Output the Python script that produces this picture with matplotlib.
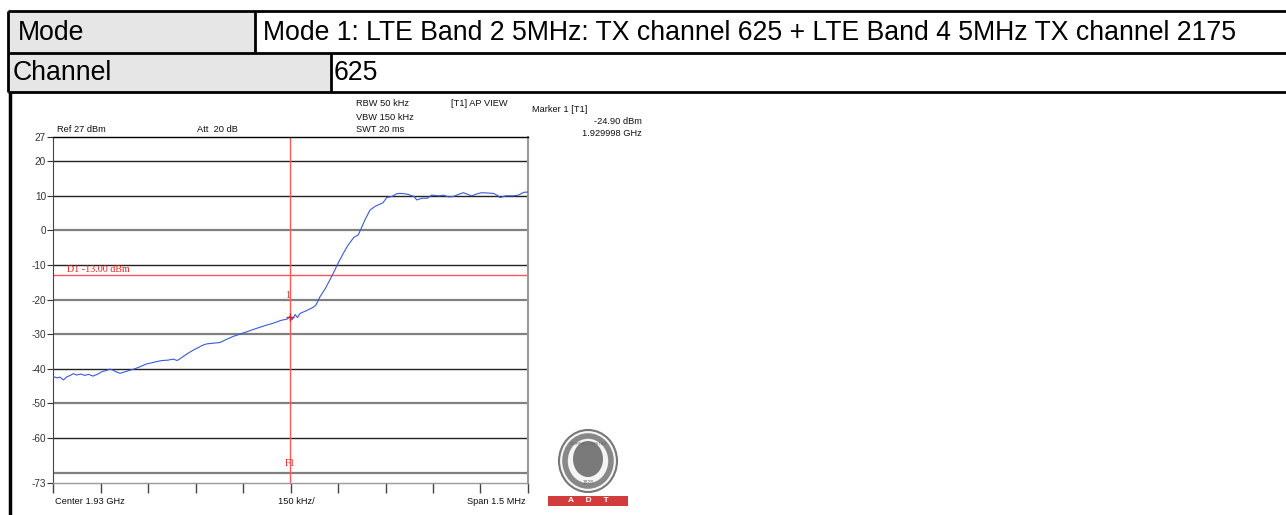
import matplotlib
matplotlib.use('Agg')
import matplotlib.pyplot as plt
from matplotlib.patches import Rectangle, Ellipse
import numpy as np

# ---------------- data ----------------
mode_label = "Mode"
mode_value = "Mode 1: LTE Band 2 5MHz: TX channel 625 + LTE Band 4 5MHz TX channel 2175"
channel_label = "Channel"
channel_value = "625"

freq_mhz = [1929.250, 1929.262, 1929.272, 1929.283, 1929.294, 1929.305, 1929.314, 1929.325,
            1929.338, 1929.350, 1929.362, 1929.377, 1929.392, 1929.405, 1929.418, 1929.430,
            1929.440, 1929.450, 1929.462, 1929.472, 1929.490, 1929.508, 1929.525, 1929.545,
            1929.560, 1929.578, 1929.595, 1929.612, 1929.630, 1929.642, 1929.651, 1929.665,
            1929.680, 1929.693, 1929.710, 1929.722, 1929.735, 1929.755, 1929.777, 1929.800,
            1929.820, 1929.840, 1929.865, 1929.893, 1929.920, 1929.946, 1929.970, 1929.990,
            1929.998, 1930.005, 1930.015, 1930.022, 1930.030, 1930.050, 1930.070, 1930.080,
            1930.093, 1930.110, 1930.135, 1930.150, 1930.167, 1930.180, 1930.200, 1930.214,
            1930.235, 1930.251, 1930.268, 1930.283, 1930.292, 1930.304, 1930.320, 1930.335,
            1930.346, 1930.360, 1930.372, 1930.390, 1930.399, 1930.415, 1930.433, 1930.445,
            1930.470, 1930.483, 1930.498, 1930.514, 1930.530, 1930.546, 1930.560, 1930.572,
            1930.590, 1930.604, 1930.625, 1930.641, 1930.652, 1930.662, 1930.680, 1930.704,
            1930.720, 1930.736, 1930.750]
level_dbm = [-42.2, -42.6, -42.4, -43.2, -42.3, -41.9, -41.4, -41.8,
             -41.5, -41.9, -41.6, -42.1, -41.5, -40.8, -40.5, -40.1,
             -40.4, -40.9, -41.3, -41.0, -40.5, -40.0, -39.4, -38.6,
             -38.3, -37.9, -37.6, -37.5, -37.2, -37.6, -37.1, -36.2,
             -35.3, -34.6, -33.8, -33.2, -32.8, -32.6, -32.4, -31.4,
             -30.6, -30.0, -29.2, -28.3, -27.5, -26.8, -26.0, -25.6,
             -24.9, -25.8, -24.3, -25.2, -24.0, -23.2, -22.3, -21.6,
             -19.2, -16.8, -12.4, -9.5, -6.6, -4.5, -2.0, -1.3,
             3.0, 5.9, 7.0, 7.6, 8.0, 9.5, 9.8, 10.6,
             10.7, 10.6, 10.4, 9.8, 8.8, 9.3, 9.3, 10.2,
             10.0, 10.2, 9.7, 9.8, 10.4, 10.9, 10.4, 10.0,
             10.6, 10.9, 10.8, 10.7, 10.2, 9.5, 10.0, 10.0,
             10.2, 11.0, 11.1]

y_ticks = [27, 20, 10, 0, -10, -20, -30, -40, -50, -60, -73]
grid_levels = [20, 10, 0, -10, -20, -30, -40, -50, -60, -70]
grid_dark = [True, True, False, True, False, False, True, False, True, False]
display_line_dbm = -13.0
marker_freq = 1929.998
marker_level = -24.90
center_freq = 1930.0
span_mhz = 1.5
ref_level = 27
bottom_level = -73

FONT = ['Liberation Sans', 'DejaVu Sans']
SERIF = ['Liberation Serif', 'DejaVu Serif']

fig = plt.figure(figsize=(12.86, 5.15), dpi=100)

# ---------------- overlay in pixel coords ----------------
ov = fig.add_axes([0, 0, 1, 1])
ov.set_xlim(0, 1286)
ov.set_ylim(515, 0)
ov.axis('off')

ov.add_patch(Rectangle((8, 11), 247, 42, fc='#e6e6e6', ec='none'))
ov.add_patch(Rectangle((8, 53), 323, 39, fc='#e6e6e6', ec='none'))
lk = dict(color='black', lw=2, solid_capstyle='butt')
ov.plot([8, 1286], [11, 11], **lk)
ov.plot([8, 1286], [53, 53], **lk)
ov.plot([8, 1286], [92, 92], **lk)
ov.plot([8, 8], [11, 92], **lk)
ov.plot([255, 255], [11, 53], **lk)
ov.plot([331, 331], [53, 92], **lk)
ov.plot([9.5, 9.5], [92, 515], color='black', lw=2.5, solid_capstyle='butt')

tk = dict(fontsize=19.2, family=FONT, va='center', ha='left')
ov.text(18, 33, mode_label, **tk)
ov.text(263, 33, mode_value, **tk)
ov.text(13, 73, channel_label, **tk)
ov.text(334, 73, channel_value, **tk)

sk = dict(fontsize=6.7, family=FONT, va='center', color='#111111')
ov.text(57, 130, "Ref 27 dBm", ha='left', **sk)
ov.text(197, 130, "Att  20 dB", ha='left', **sk)
ov.text(73, 148, "Offset 17 dB", ha='left', **sk)
ov.text(356, 104, "RBW 50 kHz", ha='left', **sk)
ov.text(356, 117, "VBW 150 kHz", ha='left', **sk)
ov.text(356, 129, "SWT 20 ms", ha='left', **sk)
ov.text(451, 104, "[T1] AP VIEW", ha='left', **sk)
ov.text(532, 109, "Marker 1 [T1]", ha='left', **sk)
ov.text(642, 122, "-24.90 dBm", ha='right', **sk)
ov.text(642, 134, "1.929998 GHz", ha='right', **sk)
ov.text(55, 501, "Center 1.93 GHz", ha='left', **sk)
ov.text(278, 501, "150 kHz/", ha='left', **sk)
ov.text(526, 501, "Span 1.5 MHz", ha='right', **sk)

# logo
ov.add_patch(Ellipse((588, 461), 58, 62, fc='#f4f4f4', ec='#777777', lw=1.5))
ov.add_patch(Ellipse((588, 461), 46, 50, fc='#f4f4f4', ec='#888888', lw=4))
ov.add_patch(Ellipse((588, 459), 30, 36, fc='#7a7a7a', ec='none'))
ov.text(588, 444, "BUREAU VERITAS", fontsize=3, family=FONT, ha='center', va='center', color='#666666')
ov.text(588, 483, "1828", fontsize=3.5, family=FONT, ha='center', va='center', color='#666666')
ov.add_patch(Rectangle((548, 496), 80, 10, fc='#d23c3c', ec='none'))
ov.text(588, 501, "A     D     T", fontsize=6, family=FONT, ha='center', va='center',
        color='white', weight='bold')

# ---------------- spectrum axes ----------------
ax = fig.add_axes([53 / 1286, 32 / 515, 475 / 1286, 346 / 515])
ax.set_xlim(center_freq - span_mhz / 2, center_freq + span_mhz / 2)
ax.set_ylim(bottom_level, ref_level)

for lvl, dark in zip(grid_levels, grid_dark):
    if dark:
        ax.axhline(lvl, color='#222222', lw=1.0, zorder=1)
    else:
        ax.axhline(lvl, color='#808080', lw=1.6, zorder=1)

ax.plot(freq_mhz, level_dbm, color='#3a5ad8', lw=0.8, zorder=3)

ax.axhline(display_line_dbm, color='#ff5555', lw=1.0, zorder=2)
ax.axvline(marker_freq, color='#ff5a5a', lw=1.0, zorder=2)
ax.text(1929.295, display_line_dbm + 0.3, "D1 -13.00 dBm", color='#e02020', fontsize=7.2,
        family=SERIF, ha='left', va='bottom')
ax.text(marker_freq, -67.5, "F1", color='#e02020', fontsize=7.2, family=SERIF,
        ha='center', va='center')
ax.plot([marker_freq], [marker_level], marker='+', color='#e02020', ms=6, mew=1, zorder=4)
ax.text(marker_freq - 0.006, marker_level + 6, "1", color='#e02020', fontsize=7.2, family=SERIF,
        ha='center', va='center')

ax.set_yticks(y_ticks)
ax.set_yticklabels([str(v) for v in y_ticks], fontsize=7.2, family=FONT)
ax.set_xticks(np.linspace(center_freq - span_mhz / 2, center_freq + span_mhz / 2, 11))
ax.set_xticklabels([])
ax.tick_params(axis='y', length=4, width=0.8, pad=1, colors='#333333')
ax.tick_params(axis='x', length=7, width=1.0, colors='#444444')

ax.spines['top'].set_color('black')
ax.spines['top'].set_linewidth(1.0)
ax.spines['left'].set_color('#444444')
ax.spines['left'].set_linewidth(0.8)
ax.spines['right'].set_color('#999999')
ax.spines['right'].set_linewidth(1.5)
ax.spines['bottom'].set_color('#999999')
ax.spines['bottom'].set_linewidth(1.0)

fig.savefig('out.png', dpi=100)
